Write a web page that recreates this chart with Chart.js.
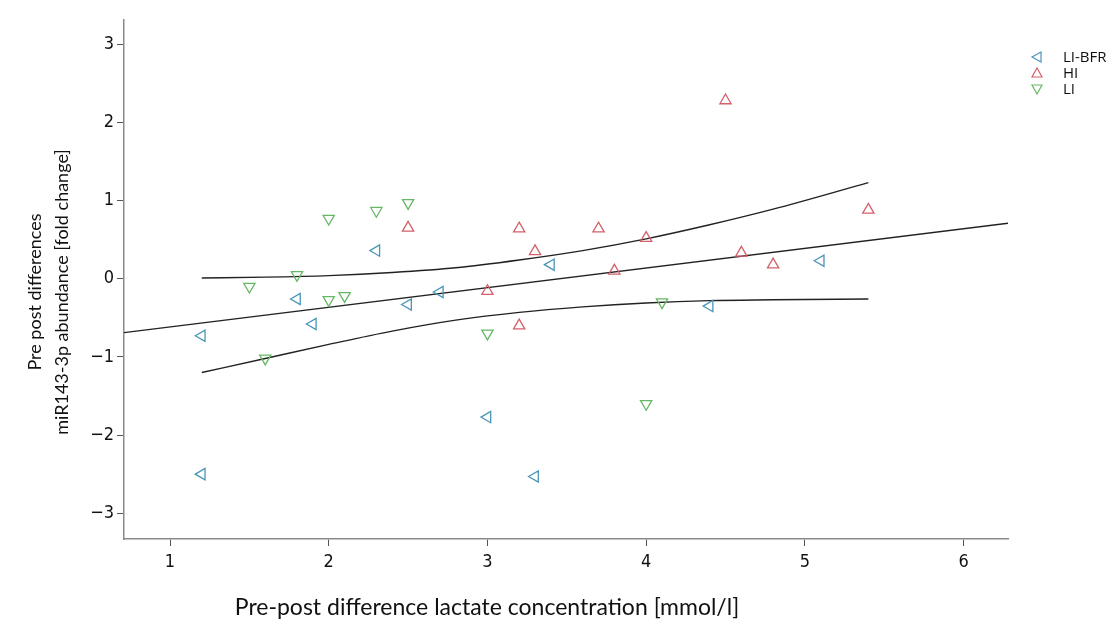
<!DOCTYPE html>
<html>
<head>
<meta charset="utf-8">
<script src="https://cdn.jsdelivr.net/npm/chart.js@4.4.1/dist/chart.umd.min.js"></script>
<style>
  html, body { margin: 0; padding: 0; background: #fff; }
  #wrap { width: 1120px; height: 623px; }
</style>
</head>
<body>
<div id="wrap"><canvas id="chart" width="1120" height="623"></canvas></div>
<script>
// ---------- dados ----------
const groupNames = ['LI-BFR', 'HI', 'LI'];

const liBfrX = [1.2, 1.2, 1.8, 1.9, 2.3, 2.5, 2.7, 3.0, 3.3, 3.4, 4.4, 5.1];
const liBfrY = [-0.73, -2.50, -0.26, -0.58, 0.36, -0.33, -0.17, -1.77, -2.53, 0.18, -0.35, 0.23];

const hiX = [2.5, 3.0, 3.2, 3.2, 3.3, 3.7, 3.8, 4.0, 4.5, 4.6, 4.8, 5.4];
const hiY = [0.65, -0.16, 0.64, -0.60, 0.35, 0.64, 0.10, 0.52, 2.28, 0.33, 0.18, 0.88];

const liX = [1.5, 1.6, 1.8, 2.0, 2.0, 2.1, 2.3, 2.5, 3.0, 4.0, 4.1];
const liY = [-0.10, -1.02, 0.05, 0.77, -0.27, -0.22, 0.87, 0.97, -0.70, -1.60, -0.30];

// linha de regressão (extremos do eixo) e intervalo de confiança
const fitX = [0.71, 6.28];
const fitY = [-0.69, 0.71];
const ciX = [1.2, 1.6, 2.0, 2.4, 2.8, 3.2, 3.6, 4.0, 4.4, 4.8, 5.4];
const ciUpper = [0.01, 0.02, 0.04, 0.08, 0.14, 0.24, 0.36, 0.51, 0.69, 0.89, 1.23];
const ciLower = [-1.20, -1.02, -0.84, -0.67, -0.53, -0.43, -0.36, -0.31, -0.28, -0.27, -0.26];

const xTicks = [1, 2, 3, 4, 5, 6];
const yTicks = [-3, -2, -1, 0, 1, 2, 3];

const xTitle = 'Pre-post difference lactate concentration [mmol/l]';
const yTitle = ['Pre post differences', 'miR143-3p abundance [fold change]'];

const colors = ['#4a95b8', '#d4606a', '#66b866'];
const rotations = [-90, 0, 180];

const toPts = (xs, ys) => xs.map((x, i) => ({ x, y: ys[i] }));

const scatterSets = [[liBfrX, liBfrY], [hiX, hiY], [liX, liY]].map((s, i) => ({
    type: 'scatter',
    label: groupNames[i],
    data: toPts(s[0], s[1]),
    pointStyle: 'triangle',
    rotation: rotations[i],
    pointRadius: 6.5,
    pointHoverRadius: 6.5,
    borderColor: colors[i],
    backgroundColor: 'rgba(0,0,0,0)',
    pointBorderWidth: 1.3,
    order: 1
}));

const lineStyle = {
    type: 'line',
    borderColor: '#222',
    borderWidth: 1.4,
    pointRadius: 0,
    fill: false,
    order: 2
};

const lineSets = [
    Object.assign({ label: 'fit', data: toPts(fitX, fitY), tension: 0 }, lineStyle),
    Object.assign({ label: 'ciU', data: toPts(ciX, ciUpper), cubicInterpolationMode: 'monotone' }, lineStyle),
    Object.assign({ label: 'ciL', data: toPts(ciX, ciLower), cubicInterpolationMode: 'monotone' }, lineStyle)
];

// títulos dos eixos + legenda desenhados à mão
const extrasPlugin = {
    id: 'spssExtras',
    afterDraw(chart) {
        const c = chart.ctx;
        c.save();
        c.fillStyle = '#111';
        c.textAlign = 'center';
        c.textBaseline = 'middle';

        c.font = '23px Lato';
        c.fillText(xTitle, 487, 608);

        c.save();
        c.translate(35, 292);
        c.rotate(-Math.PI / 2);
        c.font = '18px Lato';
        c.fillText(yTitle[0], 0, 0);
        c.fillText(yTitle[1], 0, 27);
        c.restore();

        groupNames.forEach((name, i) => {
            const y = 57 + i * 16;
            const x = 1037;
            const r = 5;
            c.strokeStyle = colors[i];
            c.lineWidth = 1.2;
            c.beginPath();
            if (i === 0) {
                c.moveTo(x - r, y); c.lineTo(x + r * 0.8, y - r); c.lineTo(x + r * 0.8, y + r);
            } else if (i === 1) {
                c.moveTo(x, y - r); c.lineTo(x + r, y + r * 0.8); c.lineTo(x - r, y + r * 0.8);
            } else {
                c.moveTo(x, y + r); c.lineTo(x + r, y - r * 0.8); c.lineTo(x - r, y - r * 0.8);
            }
            c.closePath();
            c.stroke();
            c.font = '15px "Open Sans"';
            c.textAlign = 'left';
            c.fillText(name, 1063, y + 1);
        });
        c.restore();
    }
};

new Chart(document.getElementById('chart').getContext('2d'), {
    data: { datasets: scatterSets.concat(lineSets) },
    options: {
        responsive: false,
        animation: false,
        layout: { padding: { top: 20, right: 112, left: 0, bottom: 0 } },
        plugins: { legend: { display: false }, tooltip: { enabled: false } },
        scales: {
            x: {
                type: 'linear',
                min: 0.71,
                max: 6.28,
                afterBuildTicks: s => { s.ticks = xTicks.map(v => ({ value: v })); },
                afterFit: s => { s.height = 84; },
                border: { display: true, color: '#8a8a8a', width: 1.5 },
                grid: { drawOnChartArea: false, drawTicks: true, tickLength: 7, color: '#555' },
                ticks: { color: '#111', padding: 6, font: { family: '"DejaVu Sans Condensed", "DejaVu Sans"', size: 18 } }
            },
            y: {
                type: 'linear',
                min: -3.33,
                max: 3.31,
                afterBuildTicks: s => { s.ticks = yTicks.map(v => ({ value: v })); },
                afterFit: s => { s.width = 124; },
                border: { display: true, color: '#8a8a8a', width: 1.5 },
                grid: { drawOnChartArea: false, drawTicks: true, tickLength: 7, color: '#555' },
                ticks: {
                    color: '#111',
                    padding: 3,
                    font: { family: '"DejaVu Sans Condensed", "DejaVu Sans"', size: 18 },
                    callback: v => (v < 0 ? '\u2212' + Math.abs(v) : String(v))
                }
            }
        }
    },
    plugins: [extrasPlugin]
});
</script>
</body>
</html>
